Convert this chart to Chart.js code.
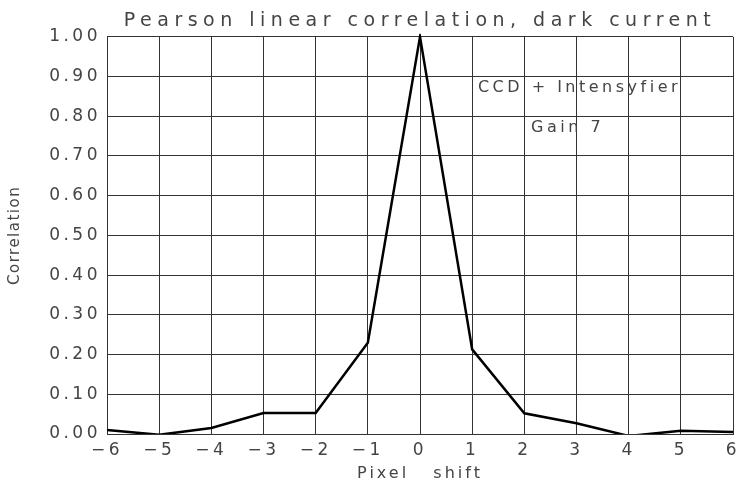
<!DOCTYPE html>
<html>
<head>
<meta charset="utf-8">
<title>Pearson linear correlation, dark current</title>
<script src="https://cdn.jsdelivr.net/npm/chart.js@4/dist/chart.umd.min.js"></script>
<style>
  html, body { margin: 0; padding: 0; background: #fff; }
  #wrap { width: 739px; height: 488px; }
</style>
</head>
<body>
<div id="wrap"><canvas id="chart"></canvas></div>
<script>
// pixel shift vs correlation
const shifts = [-6, -5, -4, -3, -2, -1, 0, 1, 2, 3, 4, 5, 6];
const correlation = [0.01, -0.002, 0.015, 0.053, 0.053, 0.23, 1.0, 0.213, 0.052, 0.027, -0.005, 0.008, 0.005];

const xTickLabels = ["\u22126", "\u22125", "\u22124", "\u22123", "\u22122", "\u22121", "0", "1", "2", "3", "4", "5", "6"];
const yTickLabels = ["0.00", "0.10", "0.20", "0.30", "0.40", "0.50", "0.60", "0.70", "0.80", "0.90", "1.00"];

const notes = [
  { text: "CCD + Intensyfier", x: 1.11, y: 0.872 },
  { text: "Gain 7", x: 2.13, y: 0.771 }
];

const FONT = "'DejaVu Sans', sans-serif";
const TEXT = "#444";
const SPACING = "3.5px";

// run a draw function with its own letter spacing
function spaced(chart, obj, fn, spacing) {
  if (!obj || obj["_sp_" + fn]) return;
  const orig = obj[fn].bind(obj);
  obj[fn] = (...args) => {
    chart.ctx.save();
    chart.ctx.letterSpacing = spacing;
    orig(...args);
    chart.ctx.restore();
  };
  obj["_sp_" + fn] = true;
}

// wide plotter-style lettering: canvas letter spacing, reset on every resize
const spacingPlugin = {
  id: "spacing",
  beforeUpdate(chart) { chart.ctx.letterSpacing = SPACING; },
  afterLayout(chart) {
    spaced(chart, chart.titleBlock, "draw", "5.5px");
    spaced(chart, chart.scales.y, "drawTitle", "1.5px");
    spaced(chart, chart.scales.x, "drawTitle", "3px");
  },
  beforeDraw(chart) { chart.ctx.letterSpacing = SPACING; }
};

const notesPlugin = {
  id: "notes",
  afterDatasetsDraw(chart) {
    const { ctx, scales } = chart;
    ctx.save();
    ctx.font = "16px " + FONT;
    ctx.fillStyle = TEXT;
    ctx.textAlign = "left";
    ctx.textBaseline = "middle";
    notes.forEach((n) => {
      ctx.fillText(n.text, scales.x.getPixelForValue(n.x), scales.y.getPixelForValue(n.y));
    });
    ctx.restore();
  }
};

new Chart(document.getElementById("chart"), {
  type: "line",
  data: {
    datasets: [
      {
        data: shifts.map((s, i) => ({ x: s, y: correlation[i] })),
        borderColor: "#000",
        borderWidth: 2.5,
        pointRadius: 0,
        tension: 0,
        clip: { left: 2, right: 2, top: 3, bottom: 0 }
      }
    ]
  },
  options: {
    responsive: true,
    maintainAspectRatio: false,
    animation: false,
    layout: { padding: { left: 0, right: 6, top: 0, bottom: 0 } },
    plugins: {
      legend: { display: false },
      tooltip: { enabled: false },
      title: {
        display: true,
        text: "Pearson linear correlation, dark current",
        color: TEXT,
        fullSize: false,
        font: { family: FONT, size: 19, weight: "normal" },
        padding: { top: 10, bottom: 4 }
      }
    },
    scales: {
      x: {
        type: "linear",
        min: -6,
        max: 6,
        ticks: {
          stepSize: 1,
          color: TEXT,
          padding: 6,
          font: { family: FONT, size: 17 },
          maxRotation: 0,
          callback: (v) => xTickLabels[shifts.indexOf(v)]
        },
        grid: { color: "#333", lineWidth: 1, drawTicks: false },
        border: { color: "#333" },
        title: {
          display: true,
          text: "Pixel   shift",
          color: TEXT,
          font: { family: FONT, size: 16 },
          padding: { top: 0, bottom: 5 }
        },
        afterFit(scale) {
          scale.height = 54;
          scale.paddingLeft = 0;
          scale.paddingRight = 0;
        }
      },
      y: {
        min: 0,
        max: 1,
        ticks: {
          stepSize: 0.1,
          color: TEXT,
          padding: 6,
          font: { family: FONT, size: 17 },
          callback: (v) => yTickLabels[Math.round(v * 10)]
        },
        grid: { color: "#333", lineWidth: 1, drawTicks: false },
        border: { color: "#333" },
        title: {
          display: true,
          text: "Correlation",
          color: TEXT,
          font: { family: FONT, size: 15 },
          padding: { top: 6, bottom: 0 }
        },
        afterFit(scale) {
          scale.width = 107;
        }
      }
    }
  },
  plugins: [spacingPlugin, notesPlugin]
});
</script>
</body>
</html>
